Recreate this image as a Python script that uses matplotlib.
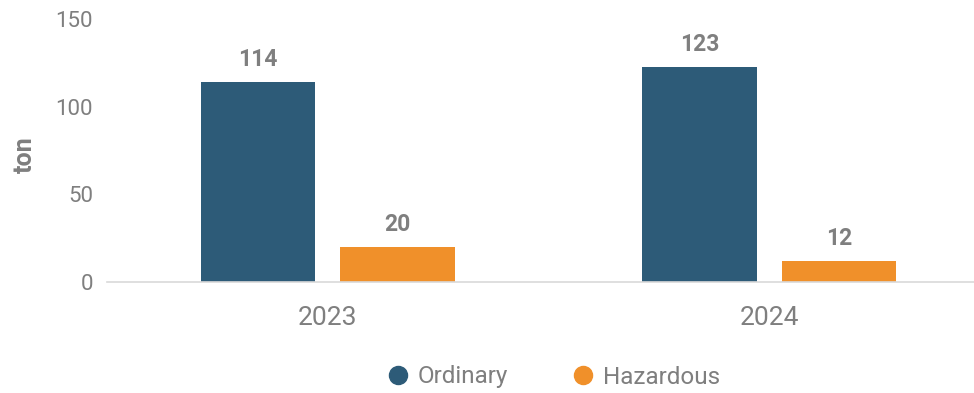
import matplotlib
matplotlib.use("Agg")
import matplotlib.pyplot as plt
from matplotlib.lines import Line2D
import numpy as np

years = ["2023", "2024"]
ordinary = [114, 123]
hazardous = [20, 12]
series_names = ["Ordinary", "Hazardous"]
yticks = [0, 50, 100, 150]

c_ord = "#2d5b78"
c_haz = "#f0902a"
text_c = "#7f7f7f"

plt.rcParams["font.family"] = ["Roboto", "DejaVu Sans"]

fig = plt.figure(figsize=(9.74, 3.93), dpi=100)
ax = fig.add_axes([107 / 974, 1 - 282 / 393, 1 - 107 / 974, (282 - 19.5) / 393])

x = np.arange(len(years))
w = 0.26
off = 0.158
b1 = ax.bar(x - off, ordinary, width=w, color=c_ord)
b2 = ax.bar(x + off, hazardous, width=w, color=c_haz)

for bars, vals in ((b1, ordinary), (b2, hazardous)):
    for rect, v in zip(bars, vals):
        ax.annotate(f"{v}", (rect.get_x() + rect.get_width() / 2, v),
                    xytext=(0, 8), textcoords="offset points",
                    ha="center", va="bottom", fontsize=16.5,
                    fontweight="bold", color=text_c)

ax.set_ylim(0, 150)
ax.set_xlim(-0.5, (974 - 107) / 441.5 - 0.5)
ax.set_yticks(yticks)
ax.set_yticklabels([str(t) for t in yticks], fontsize=16,
                   fontweight="normal", color=text_c)
ax.set_xticks(x)
ax.set_xticklabels(years, fontsize=19, fontweight="normal", color=text_c)
ax.tick_params(axis="both", length=0)
ax.tick_params(axis="y", pad=10)
ax.tick_params(axis="x", pad=17)

for s in ("top", "right", "left"):
    ax.spines[s].set_visible(False)
ax.spines["bottom"].set_color("#d9d9d9")
ax.spines["bottom"].set_linewidth(1.2)

fig.text(25 / 974, 1 - 155 / 393, "ton", rotation=90, ha="center",
         va="center", fontsize=18, fontweight="bold", color=text_c)

handles = [Line2D([], [], marker="o", linestyle="none", markersize=13,
                  markerfacecolor=c, markeredgecolor=c)
           for c in (c_ord, c_haz)]
fig.legend(handles, series_names, loc="center",
           bbox_to_anchor=(553 / 974, 1 - 377 / 393), ncol=2, frameon=False,
           labelcolor=text_c, handletextpad=0.3,
           columnspacing=2.6, handlelength=1.0,
           prop={"weight": "normal", "size": 17.5})

fig.savefig("out.png", dpi=100)
